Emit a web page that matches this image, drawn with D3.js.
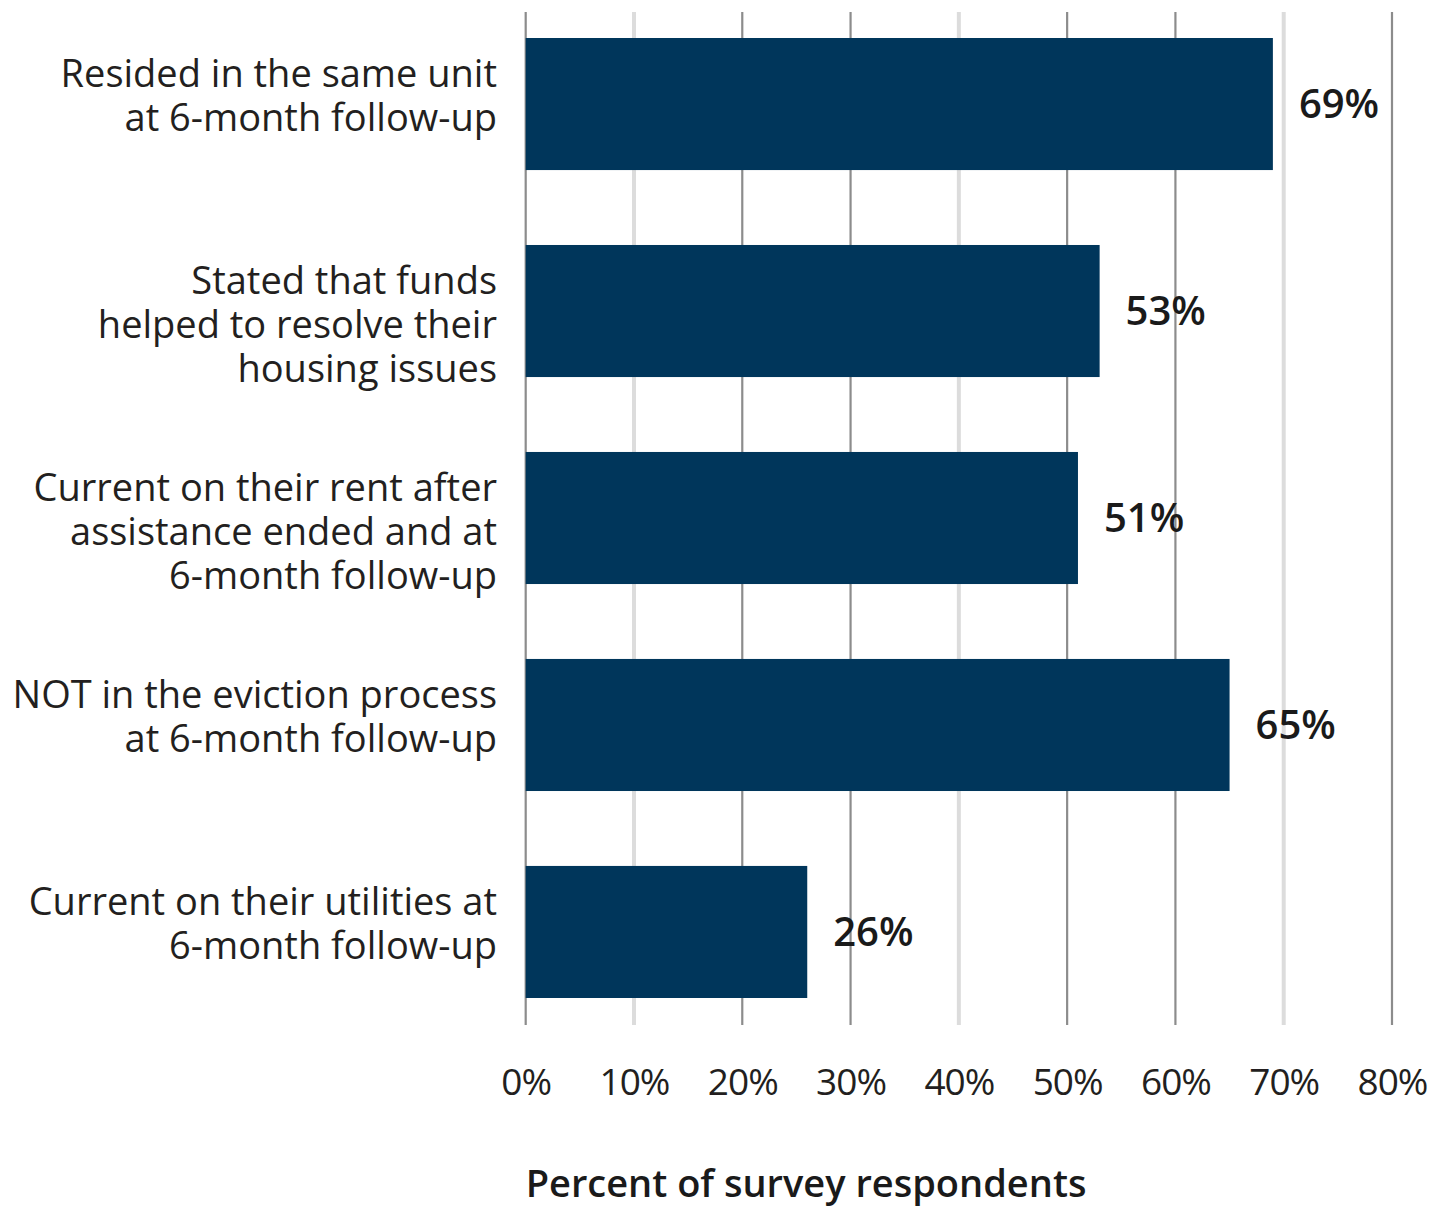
<!DOCTYPE html>
<html>
<head>
<meta charset="utf-8">
<script src="https://cdn.jsdelivr.net/npm/d3@7"></script>
<style>
  body { margin: 0; background: #fff; }
  svg { display: block; }
</style>
</head>
<body>
<div id="chart"></div>
<script>
// chart data
var categories = [
  ["Resided in the same unit", "at 6-month follow-up"],
  ["Stated that funds", "helped to resolve their", "housing issues"],
  ["Current on their rent after", "assistance ended and at", "6-month follow-up"],
  ["NOT in the eviction process", "at 6-month follow-up"],
  ["Current on their utilities at", "6-month follow-up"]
];
var values = [69, 53, 51, 65, 26];
var ticks = [0, 10, 20, 30, 40, 50, 60, 70, 80];
// which gridlines are drawn pale in the original
var paleTicks = [10, 40, 70];

var width = 1447, height = 1211;
var margin = { top: 12, left: 525.7, right: 55, bottom: 186 };

var svg = d3.select("#chart")
  .append("svg")
  .attr("width", width)
  .attr("height", height);

// scales
var x = d3.scaleLinear().domain([0, 80]).range([margin.left, width - margin.right]);
var y = d3.scaleBand()
  .domain(d3.range(values.length))
  .range([38, 998])
  .paddingInner(0.362)
  .paddingOuter(0);

// gridlines
svg.append("g")
  .selectAll("line")
  .data(ticks)
  .enter()
  .append("line")
  .attr("x1", function (d) { return x(d); })
  .attr("x2", function (d) { return x(d); })
  .attr("y1", margin.top)
  .attr("y2", 1025)
  .attr("stroke", function (d) { return paleTicks.indexOf(d) >= 0 ? "#dcdcdc" : "#8c8c8c"; })
  .attr("stroke-width", function (d) { return paleTicks.indexOf(d) >= 0 ? 4 : 2.2; });

// bars
svg.append("g")
  .selectAll("rect")
  .data(values)
  .enter()
  .append("rect")
  .attr("x", x(0))
  .attr("y", function (d, i) { return y(i); })
  .attr("width", function (d) { return x(d) - x(0); })
  .attr("height", y.bandwidth())
  .attr("fill", "#00365b");

// value labels
svg.append("g")
  .selectAll("text")
  .data(values)
  .enter()
  .append("text")
  .attr("x", function (d) { return x(d) + 26; })
  .attr("y", function (d, i) { return y(i) + y.bandwidth() / 2 + 14; })
  .attr("font-family", "'Open Sans', sans-serif")
  .attr("font-weight", 600)
  .attr("font-size", 40)
  .attr("fill", "#1a1a1a")
  .text(function (d) { return d + "%"; });

// category labels
var cat = svg.append("g")
  .selectAll("text")
  .data(categories)
  .enter()
  .append("text")
  .attr("text-anchor", "end")
  .attr("font-family", "'Open Sans', sans-serif")
  .attr("font-size", 38)
  .attr("fill", "#231f20")
  .attr("transform", function (d, i) { return "translate(497," + (y(i) + 49) + ")"; });

cat.selectAll("tspan")
  .data(function (d) { return d; })
  .enter()
  .append("tspan")
  .attr("x", 0)
  .attr("y", function (d, i) { return i * 44; })
  .text(function (d) { return d; });

// x axis tick labels
var xAxis = d3.axisBottom(x)
  .tickValues(ticks)
  .tickSize(0)
  .tickPadding(0)
  .tickFormat(function (d) { return d + "%"; });

var gx = svg.append("g")
  .attr("transform", "translate(0,1069)")
  .call(xAxis);
gx.select(".domain").remove();
gx.selectAll("text")
  .attr("font-family", "'Open Sans', sans-serif")
  .attr("font-size", 37)
  .attr("letter-spacing", -1)
  .attr("fill", "#231f20");

// axis title
svg.append("text")
  .attr("x", x(0))
  .attr("y", 1197)
  .attr("font-family", "'Open Sans', sans-serif")
  .attr("font-weight", 600)
  .attr("font-size", 38)
  .attr("fill", "#1a1a1a")
  .text("Percent of survey respondents");
</script>
</body>
</html>
